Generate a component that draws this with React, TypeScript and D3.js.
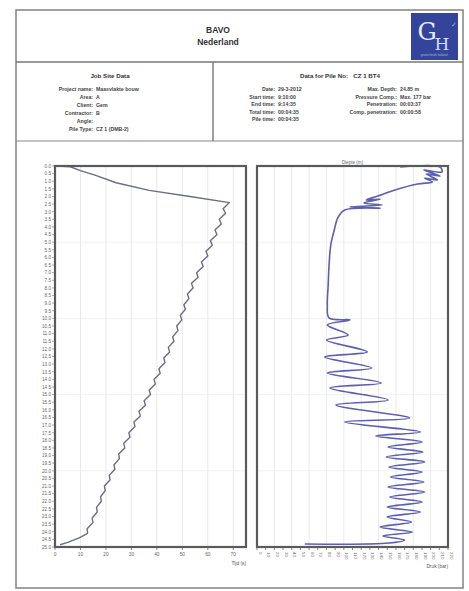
import React from "react";
import * as d3 from "d3";

// ---------- data ----------
const titleLines = ["BAVO", "Nederland"];
const jobLabels = ["Project name:", "Area:", "Client:", "Contractor:", "Angle:", "Pile Type:"];
const jobValues = ["Maasvlakte bouw", "A", "Gem", "B", "", "CZ 1 (DMB-2)"];
const pileHeading = "Data for Pile No:   CZ 1 BT4";
const pileLabelsA = ["Date:", "Start time:", "End time:", "Total time:", "Pile time:"];
const pileValuesA = ["29-3-2012", "9:10:00", "9:14:35", "00:04:35", "00:04:35"];
const pileLabelsB = ["Max. Depth:", "Pressure Comp.:", "Penetration:", "Comp. penetration:"];
const pileValuesB = ["24.85 m", "Max. 177 bar", "00:03:37", "00:00:58"];

// left chart: depth (m) vs time (s)
const penDepth = [0, 0.05, 0.3, 0.6, 1.1, 1.6, 2.0, 2.4, 2.8, 3.1, 3.5, 3.8, 4.2, 4.5, 4.9, 5.2, 5.6, 5.9, 6.3, 6.6, 7.0, 7.3, 7.7, 8.0, 8.4, 8.7, 9.1, 9.4, 9.8, 10.1, 10.5, 10.8, 11.2, 11.5, 11.9, 12.2, 12.6, 12.9, 13.3, 13.6, 14.0, 14.3, 14.7, 15.0, 15.4, 15.7, 16.1, 16.4, 16.8, 17.1, 17.5, 17.8, 18.2, 18.5, 18.9, 19.2, 19.6, 19.9, 20.3, 20.6, 21.0, 21.3, 21.7, 22.0, 22.4, 22.7, 23.1, 23.4, 23.8, 24.1, 24.4, 24.7, 24.85];
const penTime = [1, 6, 10, 15.7, 24, 37, 53, 68.5, 66.0, 67.0, 64.5, 65.3, 62.8, 63.6, 61.0, 61.8, 59.3, 60.0, 57.5, 58.2, 55.6, 56.2, 53.6, 54.2, 52.0, 52.6, 50.6, 51.2, 49.2, 49.8, 47.8, 48.3, 46.2, 46.7, 44.5, 45.0, 42.7, 43.2, 40.8, 41.3, 38.9, 39.4, 37.0, 37.5, 35.0, 35.5, 33.0, 33.5, 31.0, 31.4, 29.0, 29.4, 27.0, 27.4, 25.0, 25.3, 23.2, 23.5, 21.3, 21.6, 19.4, 19.7, 17.9, 18.2, 16.3, 16.6, 14.6, 14.9, 12.6, 12.8, 9.5, 5.0, 2.0];

// right chart: depth (m) vs pressure (bar)
const traceDepth = [0.07, 0.07, 0.39, 0.26, 0.66, 0.52, 0.92, 0.79, 1.05, 1.18, 1.57, 1.97, 2.23, 2.17, 2.43, 2.56, 2.69, 2.76, 2.89, 3.41, 4.2, 5.18, 6.5, 7.81, 9.12, 9.97, 10.1, 10.43, 11.09, 11.42, 12.2, 12.53, 13.25, 13.58, 14.24, 14.57, 15.35, 15.68, 16.54, 16.8, 17.45, 17.72, 18.11, 18.44, 18.77, 19.09, 19.42, 19.75, 20.08, 20.41, 20.73, 21.06, 21.39, 21.72, 22.05, 22.38, 22.7, 23.03, 23.36, 23.69, 24.02, 24.28, 24.54, 24.74, 24.8];
const tracePressure = [165, 211, 213, 192, 211, 195, 208, 193, 202, 185, 159, 139, 126, 142, 123, 144, 107, 142, 101, 93, 89, 85, 83, 82, 81, 83, 107, 81, 105, 80, 127, 78, 132, 81, 143, 84, 151, 91, 176, 101, 188, 137, 190, 151, 191, 149, 193, 152, 190, 154, 192, 151, 193, 153, 190, 150, 188, 150, 178, 142, 179, 145, 170, 152, 55];

const leftAxisTitle = "Tijd (s)";
const rightAxisTitle = "Druk (bar)";
const rightTopLabel = "Diepte (m)";

// ---------- layout ----------
const W = 469, H = 591;
const FONT = "'Liberation Sans', Arial, sans-serif";
const plotTop = 166, plotBottom = 547;
const L = { x0: 55, x1: 246 };
const R = { x0: 257, x1: 448 };

export default function App() {
  const y = d3.scaleLinear().domain([0, 25]).range([plotTop, plotBottom]);
  const xL = d3.scaleLinear().domain([0, 75]).range([L.x0, L.x1]);
  const xR = d3.scaleLinear().domain([0, 220]).range([R.x0, R.x1]);

  const penPts: [number, number][] = penDepth.map((d, i) => [penTime[i], d]);
  const trPts: [number, number][] = traceDepth.map((d, i) => [tracePressure[i], d]);
  const lineL = d3.line<[number, number]>().x(p => xL(p[0])).y(p => y(p[1]));
  const lineR = d3.line<[number, number]>().x(p => xR(p[0])).y(p => y(p[1])).curve(d3.curveCatmullRom.alpha(0.5));

  const depthTicks = y.ticks(50);
  const leftTicks = d3.range(0, 71, 10);
  const rightTicks = xR.ticks(22);

  return (
    <svg width={W} height={H} style={{ position: "absolute", left: 0, top: 0, background: "#fff" }} fontFamily={FONT}>
      <rect x={0} y={0} width={W} height={H} fill="#fff" />
      {/* outer frame */}
      <rect x={16} y={10} width={447} height={578} fill="none" stroke="#8a8a8a" strokeWidth={1.6} />
      <line x1={16} x2={463} y1={62} y2={62} stroke="#777" strokeWidth={1.6} />
      <line x1={16} x2={463} y1={141} y2={141} stroke="#888" strokeWidth={1.2} />
      <line x1={213} x2={213} y1={62} y2={141} stroke="#777" strokeWidth={1.4} />

      {/* title */}
      {titleLines.map((t, i) => (
        <text key={t} x={218} y={33 + i * 12} textAnchor="middle" fontSize={8.5} fontWeight="bold" fill="#333">{t}</text>
      ))}
      {/* logo */}
      <rect x={411} y={13} width={47} height={47} fill="#33449a" />
      <text x={427} y={40} textAnchor="middle" fontSize={24} fontFamily="'DejaVu Serif', serif" fill="#e8ecff">G</text>
      <text x={442} y={50} textAnchor="middle" fontSize={17} fontFamily="'DejaVu Serif', serif" fill="#d6def8">H</text>
      <text x={451} y={27} fontSize={7} fill="#7fc8a8">✓</text>
      <text x={434} y={56} textAnchor="middle" fontSize={3} fill="#aab4e0">geotechniek holland</text>

      {/* job site data */}
      <text x={110} y={78} textAnchor="middle" fontSize={6.2} fontWeight="bold" fill="#333">Job Site Data</text>
      {jobLabels.map((l, i) => (
        <g key={l} fontSize={5.2} fill="#444" fontWeight="bold">
          <text x={93} y={91 + i * 8} textAnchor="end">{l}</text>
          <text x={96} y={91 + i * 8}>{jobValues[i]}</text>
        </g>
      ))}

      {/* pile data */}
      <text x={340} y={78} textAnchor="middle" fontSize={6.2} fontWeight="bold" fill="#333" style={{ whiteSpace: "pre" }}>{pileHeading}</text>
      {pileLabelsA.map((l, i) => (
        <g key={l} fontSize={5.2} fill="#444" fontWeight="bold">
          <text x={275} y={91 + i * 7.5} textAnchor="end">{l}</text>
          <text x={278} y={91 + i * 7.5}>{pileValuesA[i]}</text>
        </g>
      ))}
      {pileLabelsB.map((l, i) => (
        <g key={l} fontSize={5.2} fill="#444" fontWeight="bold">
          <text x={397} y={91 + i * 7.5} textAnchor="end">{l}</text>
          <text x={400} y={91 + i * 7.5}>{pileValuesB[i]}</text>
        </g>
      ))}

      {/* left chart grid */}
      {leftTicks.map(t => (
        <line key={"gl" + t} x1={xL(t)} x2={xL(t)} y1={plotTop} y2={plotBottom} stroke="#e2e2e2" strokeWidth={0.8} />
      ))}
      {[5, 10, 15, 20].map(d => (
        <line key={"hl" + d} x1={L.x0} x2={L.x1} y1={y(d)} y2={y(d)} stroke="#eeeeee" strokeWidth={0.8} />
      ))}
      {/* right chart grid */}
      {rightTicks.filter(t => t % 20 === 0).map(t => (
        <line key={"gr" + t} x1={xR(t)} x2={xR(t)} y1={plotTop} y2={plotBottom} stroke="#e6e6e6" strokeWidth={0.8} />
      ))}
      {[5, 10, 15, 20].map(d => (
        <line key={"hr" + d} x1={R.x0} x2={R.x1} y1={y(d)} y2={y(d)} stroke="#eeeeee" strokeWidth={0.8} />
      ))}

      {/* depth tick labels (left) */}
      {depthTicks.map(d => (
        <g key={"dt" + d}>
          <line x1={L.x0 - 3} x2={L.x0} y1={y(d)} y2={y(d)} stroke="#777" strokeWidth={0.6} />
          <text x={L.x0 - 4} y={y(d) + 1.8} textAnchor="end" fontSize={4.6} fill="#666">{d.toFixed(1)}</text>
        </g>
      ))}

      {/* series */}
      <path d={lineL(penPts) ?? ""} fill="none" stroke="#6c6c84" strokeWidth={1.4} strokeLinejoin="round" />
      <path d={lineR(trPts) ?? ""} fill="none" stroke="#4a4fa6" strokeWidth={1.6} strokeLinejoin="round" opacity={0.9} />

      {/* plot frames */}
      <rect x={L.x0} y={plotTop} width={L.x1 - L.x0} height={plotBottom - plotTop} fill="none" stroke="#5a5a5a" strokeWidth={2.2} />
      <rect x={R.x0} y={plotTop} width={R.x1 - R.x0} height={plotBottom - plotTop} fill="none" stroke="#5a5a5a" strokeWidth={2.2} />

      {/* left x axis */}
      {leftTicks.map(t => (
        <g key={"lt" + t}>
          <line x1={xL(t)} x2={xL(t)} y1={plotBottom} y2={plotBottom + 3} stroke="#666" strokeWidth={0.8} />
          <text x={xL(t)} y={plotBottom + 9} textAnchor="middle" fontSize={4.8} fill="#666">{t}</text>
        </g>
      ))}
      <text x={L.x1} y={plotBottom + 18} textAnchor="end" fontSize={4.8} fill="#555">{leftAxisTitle}</text>

      {/* right x axis */}
      {rightTicks.map(t => (
        <g key={"rt" + t}>
          <line x1={xR(t)} x2={xR(t)} y1={plotBottom} y2={plotBottom + 3} stroke="#666" strokeWidth={0.8} />
          <text transform={`translate(${xR(t) + 1.6},${plotBottom + 5}) rotate(90)`} fontSize={4.4} fill="#666">{t}</text>
        </g>
      ))}
      <text x={R.x1} y={plotBottom + 21} textAnchor="end" fontSize={4.8} fill="#555">{rightAxisTitle}</text>
      <text x={(R.x0 + R.x1) / 2} y={plotTop - 2} textAnchor="middle" fontSize={4.6} fill="#666">{rightTopLabel}</text>
    </svg>
  );
}
